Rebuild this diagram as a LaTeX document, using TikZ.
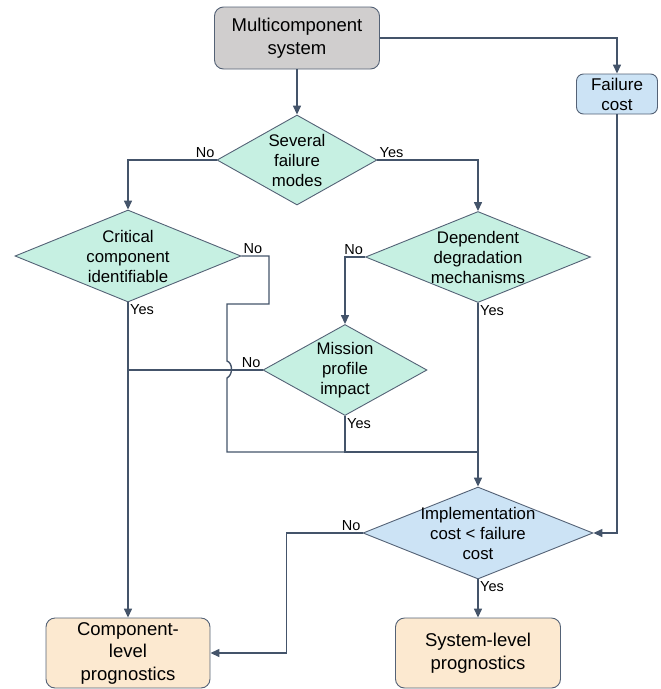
\documentclass[tikz,border=0pt]{standalone}
\usepackage{fontspec}
\setmainfont{Liberation Sans}
\usetikzlibrary{shapes.geometric,arrows.meta}
\definecolor{linec}{RGB}{68,84,106}
\definecolor{edgec}{RGB}{84,98,118}
\definecolor{mint}{RGB}{198,240,226}
\definecolor{skyb}{RGB}{204,227,245}
\definecolor{peach}{RGB}{252,233,208}
\definecolor{greyb}{RGB}{208,206,206}
\begin{document}
\begin{tikzpicture}[x=1pt, y=-1pt, >={Triangle[length=9pt,width=8pt]},
    flow/.style={draw=linec, line width=1.4pt},
    box/.style={draw=edgec, line width=0.9pt, rounded corners=9pt, align=center,
        inner sep=1pt, font=\fontsize{18.5}{22.5}\selectfont},
    decision/.style={diamond, draw=edgec, line width=0.9pt, fill=mint, inner sep=0pt},
    dtext/.style={align=center, font=\fontsize{16.8}{20}\selectfont},
    yn/.style={font=\fontsize{14.5}{17}\selectfont, inner sep=1.5pt}]
\useasboundingbox (0,0) rectangle (661,689);
% boxes
\node[box, fill=greyb, minimum width=165pt, minimum height=62pt] (sys) at (297,38) {Multicomponent\\system};
\node[box, fill=skyb, rounded corners=7pt, minimum width=81pt, minimum height=40pt,
    font=\fontsize{17}{20}\selectfont] (fcost) at (617,94) {Failure\\cost};
\node[box, fill=peach, minimum width=164pt, minimum height=70pt] (comp) at (128,653) {Component-\\level\\prognostics};
\node[box, fill=peach, minimum width=165pt, minimum height=70pt] (syslvl) at (478,653) {System-level\\prognostics};
% decisions
\node[decision, minimum width=160pt, minimum height=90pt,
    label={[dtext]center:Several\\failure\\modes}] (modes) at (297,160) {};
\node[decision, minimum width=226pt, minimum height=92pt,
    label={[dtext]center:Critical\\component\\identifiable}] (crit) at (128,256) {};
\node[decision, minimum width=225pt, minimum height=91pt,
    label={[dtext]center:Dependent\\degradation\\mechanisms}] (dep) at (478,257) {};
\node[decision, minimum width=164pt, minimum height=91pt,
    label={[dtext]center:Mission\\profile\\impact}] (mission) at (345,370) {};
\node[decision, fill=skyb, minimum width=230pt, minimum height=92pt,
    label={[dtext]center:Implementation\\cost < failure\\cost}] (impl) at (478,533) {};
\coordinate (merge) at (478,452);
% connectors
\draw[flow,->] (sys) -- (modes);
\draw[flow,->] (sys.east) -| (fcost);
\draw[flow,->] (fcost) |- (impl.east);
\draw[flow,->] (modes.west) node[yn, above left]{No} -| (crit);
\draw[flow,->] (modes.east) node[yn, above right]{Yes} -| (dep);
\draw[flow,->] (dep.west) node[yn, above left]{No} -| (mission);
\draw[flow] (crit.east) node[yn, above right]{No} -- (269,256) -- (269,304) -- (227,304) -- (227,361)
    .. controls (233,363) and (233,375) .. (227,378) -- (227,452) -- (merge);
\draw[flow] (mission.west) node[yn, above left]{No} -- (crit.south |- mission.west);
\draw[flow] (mission.south) node[yn, below right]{Yes} |- (merge);
\draw[flow,->] (dep.south) node[yn, below right]{Yes} -- (impl.north);
\draw[flow,->] (crit.south) node[yn, below right]{Yes} -- (comp.north);
\draw[flow,->] (impl.west) node[yn, above left]{No} -- ++(-76,0) |- (comp.east);
\draw[flow,->] (impl.south) node[yn, below right]{Yes} -- (syslvl.north);
\end{tikzpicture}
\end{document}
